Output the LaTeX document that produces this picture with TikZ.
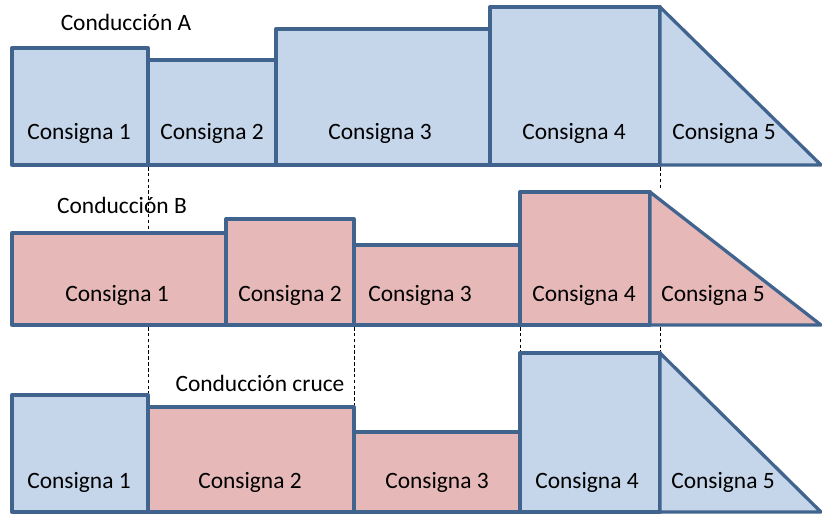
\documentclass[tikz,border=0pt]{standalone}
\usepackage{fontspec}
\setmainfont{Carlito}
\usepackage{tikz}
\usetikzlibrary{positioning}
\definecolor{azulfill}{HTML}{C5D5EA}
\definecolor{rojofill}{HTML}{E6B9B8}
\definecolor{borde}{HTML}{41648F}

\begin{document}
\begin{tikzpicture}[x=0.3mm, y=-0.3mm,
        azul/.style={draw=borde, fill=azulfill, line width=2.8pt, line join=round},
        rojo/.style={draw=borde, fill=rojofill, line width=2.8pt, line join=round},
        etiqueta/.style={font=\fontsize{20}{22}\selectfont, inner sep=0pt},
        titulo/.style={font=\fontsize{20}{22}\selectfont, inner sep=0pt},
        guia/.style={densely dashed, line width=0.6pt, black}
    ]
        \useasboundingbox (0,0) rectangle (822,515);

        % Conduccion A
        \draw[azul] (12,165) rectangle (148,48);
        \draw[azul] (148,165) rectangle (276,60);
        \draw[azul] (276,165) rectangle (490,29);
        \draw[azul] (490,165) rectangle (660,7);
        \draw[azul] (660,165) -- (660,7) -- (821,165) -- cycle;
        \node[titulo] (tA) at (126,22) {Conducción A};
        \node[etiqueta] (a1) at (79,133) {Consigna 1};
        \node[etiqueta] (a2) at (212,133) {Consigna 2};
        \node[etiqueta] (a3) at (380,133) {Consigna 3};
        \node[etiqueta] (a4) at (574,133) {Consigna 4};
        \node[etiqueta] (a5) at (724,133) {Consigna 5};

        % Conduccion B
        \draw[rojo] (12,325) rectangle (226,233);
        \draw[rojo] (226,325) rectangle (354,219);
        \draw[rojo] (354,325) rectangle (520,245);
        \draw[rojo] (520,325) rectangle (650,192);
        \draw[rojo] (650,325) -- (650,192) -- (821,325) -- cycle;
        \node[titulo] (tB) at (122,205) {Conducción B};
        \node[etiqueta] (b1) at (117,295) {Consigna 1};
        \node[etiqueta] (b2) at (290,295) {Consigna 2};
        \node[etiqueta] (b3) at (420,295) {Consigna 3};
        \node[etiqueta] (b4) at (584,295) {Consigna 4};
        \node[etiqueta] (b5) at (713,295) {Consigna 5};

        % Conduccion cruce
        \draw[azul] (12,512) rectangle (148,395);
        \draw[rojo] (148,512) rectangle (354,407);
        \draw[rojo] (354,512) rectangle (520,432);
        \draw[azul] (520,512) rectangle (660,353);
        \draw[azul] (660,512) -- (660,353) -- (821,512) -- cycle;
        \node[titulo] (tC) at (260,383) {Conducción cruce};
        \node[etiqueta] (c1) at (79,482) {Consigna 1};
        \node[etiqueta] (c2) at (250,482) {Consigna 2};
        \node[etiqueta] (c3) at (437,482) {Consigna 3};
        \node[etiqueta] (c4) at (587,482) {Consigna 4};
        \node[etiqueta] (c5) at (723,482) {Consigna 5};

        % lineas de referencia
        \coordinate (g1s) at (148,167);
        \coordinate (g1e) at (148,231);
        \coordinate (g2s) at (660,167);
        \coordinate (g2e) at (660,190);
        \coordinate (g3s) at (148,327);
        \coordinate (g3e) at (148,393);
        \coordinate (g4s) at (354,327);
        \coordinate (g4e) at (354,405);
        \coordinate (g5s) at (520,327);
        \coordinate (g5e) at (520,351);
        \coordinate (g6s) at (660,327);
        \coordinate (g6e) at (660,351);
        \draw[guia] (g1s) -- (g1e);
        \draw[guia] (g2s) -- (g2e);
        \draw[guia] (g3s) -- (g3e);
        \draw[guia] (g4s) -- (g4e);
        \draw[guia] (g5s) -- (g5e);
        \draw[guia] (g6s) -- (g6e);
    \end{tikzpicture}
\end{document}
